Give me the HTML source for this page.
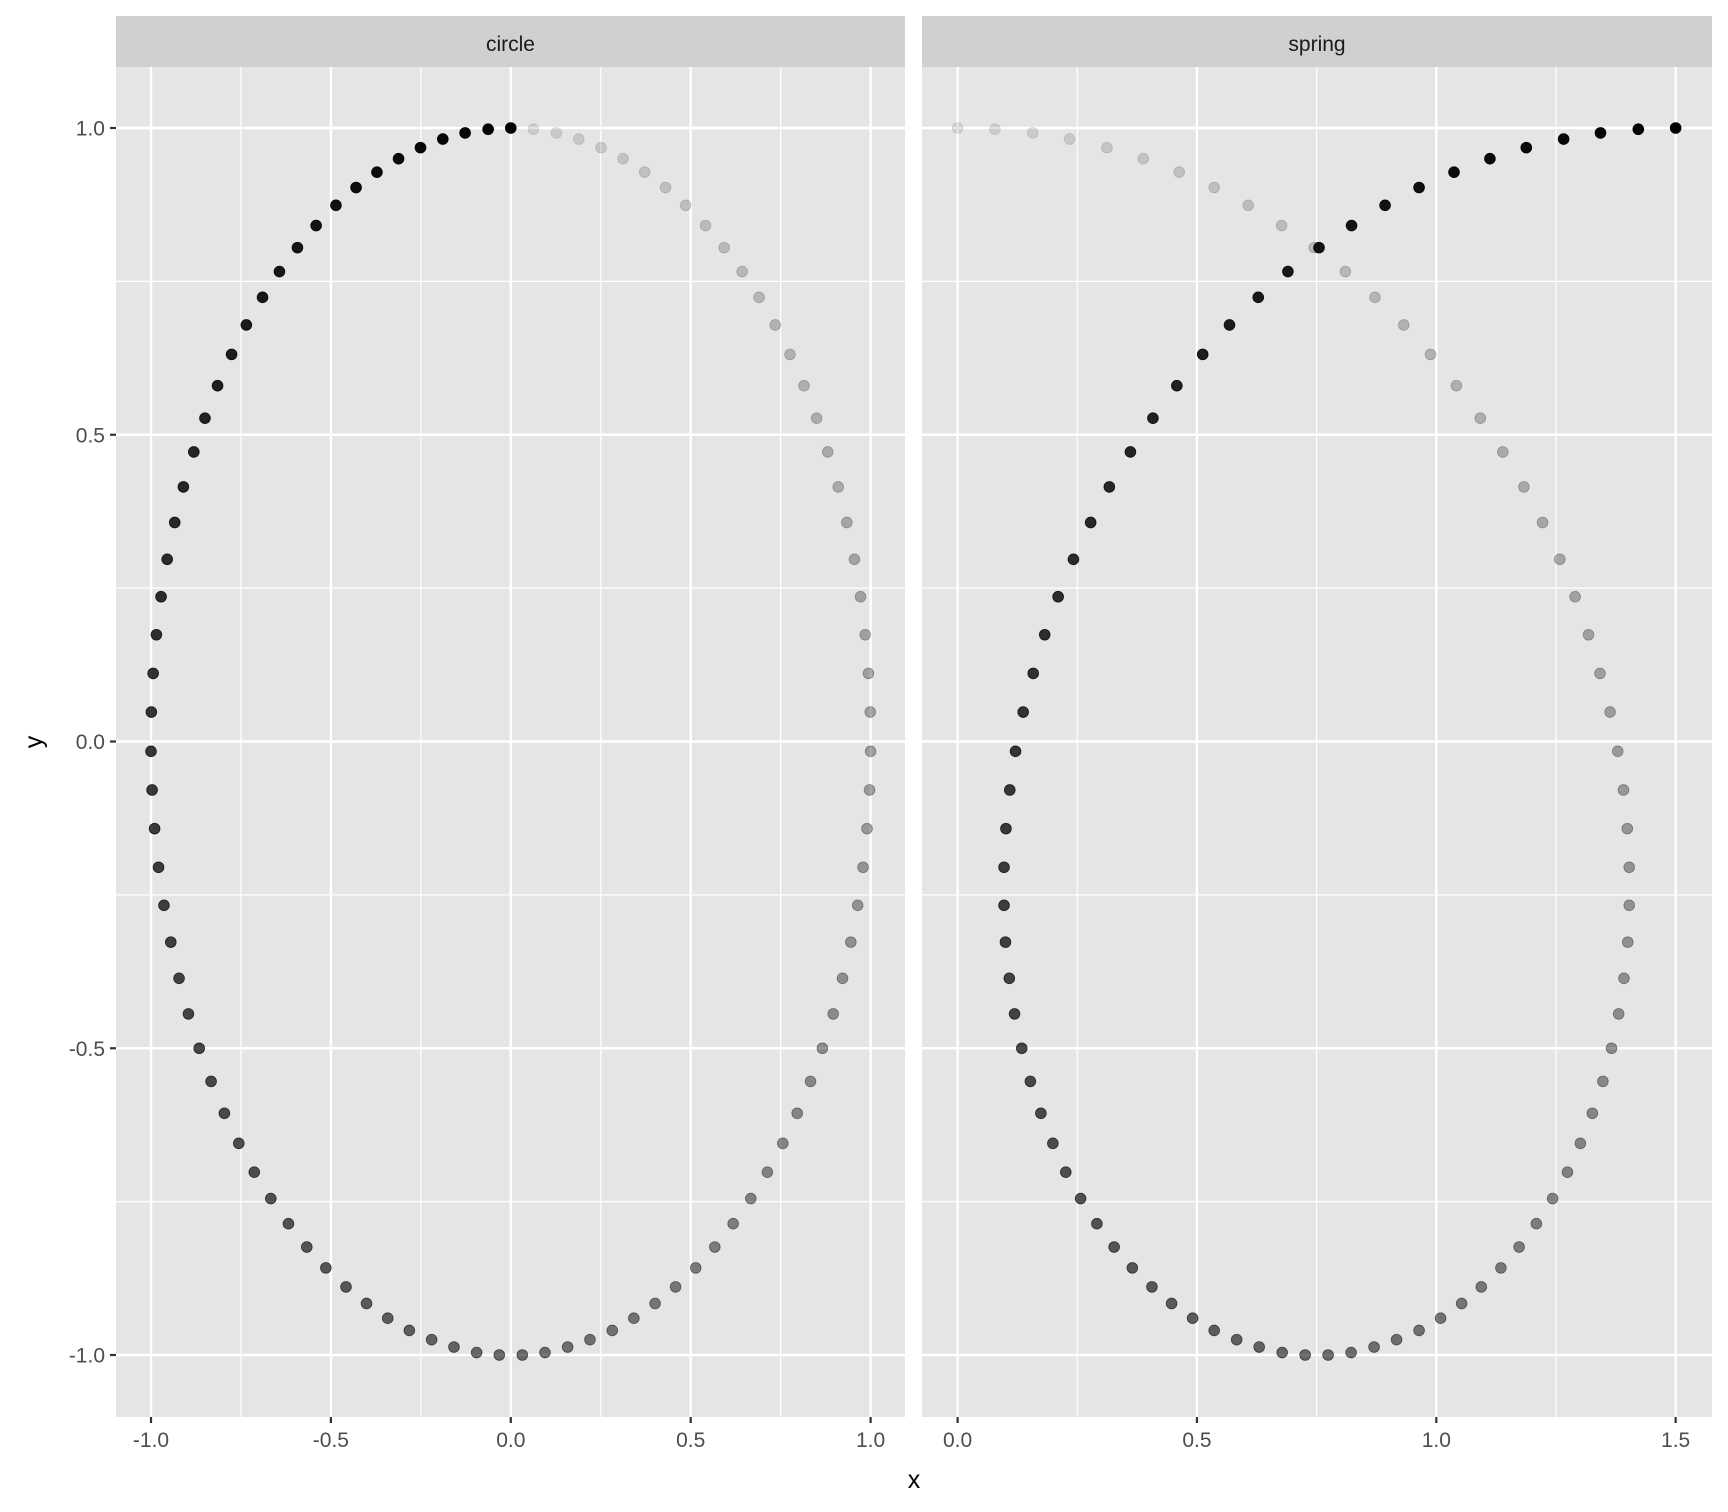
<!DOCTYPE html>
<html><head><meta charset="utf-8"><style>
html,body{margin:0;padding:0;background:#fff;}
svg{display:block;font-family:"Liberation Sans",Arial,sans-serif;}
</style></head><body>
<svg id="chart" width="1728" height="1512" viewBox="0 0 1728 1512" xmlns="http://www.w3.org/2000/svg"></svg>
<script>
const circleX=[0,0.063,0.127,0.189,0.251,0.312,0.372,0.430,0.486,0.541,0.593,0.643,0.690,0.735,0.776,0.815,0.850,0.881,0.910,0.934,0.955,0.972,0.985,0.994,0.999,1.000,0.997,0.990,0.979,0.964,0.945,0.922,0.896,0.866,0.833,0.796,0.756,0.713,0.667,0.618,0.567,0.514,0.458,0.401,0.342,0.282,0.220,0.158,0.095,0.032,-0.032,-0.095,-0.158,-0.220,-0.282,-0.342,-0.401,-0.458,-0.514,-0.567,-0.618,-0.667,-0.713,-0.756,-0.796,-0.833,-0.866,-0.896,-0.922,-0.945,-0.964,-0.979,-0.990,-0.997,-1.000,-0.999,-0.994,-0.985,-0.972,-0.955,-0.934,-0.910,-0.881,-0.850,-0.815,-0.776,-0.735,-0.690,-0.643,-0.593,-0.541,-0.486,-0.430,-0.372,-0.312,-0.251,-0.189,-0.127,-0.063,0];
const circleY=[1.000,0.998,0.992,0.982,0.968,0.950,0.928,0.903,0.874,0.841,0.805,0.766,0.724,0.679,0.631,0.580,0.527,0.472,0.415,0.357,0.297,0.236,0.174,0.111,0.048,-0.016,-0.079,-0.142,-0.205,-0.267,-0.327,-0.386,-0.444,-0.500,-0.554,-0.606,-0.655,-0.702,-0.745,-0.786,-0.824,-0.858,-0.889,-0.916,-0.940,-0.960,-0.975,-0.987,-0.996,-1.000,-1.000,-0.996,-0.987,-0.975,-0.960,-0.940,-0.916,-0.889,-0.858,-0.824,-0.786,-0.745,-0.702,-0.655,-0.606,-0.554,-0.500,-0.444,-0.386,-0.327,-0.267,-0.205,-0.142,-0.079,-0.016,0.048,0.111,0.174,0.236,0.297,0.357,0.415,0.472,0.527,0.580,0.631,0.679,0.724,0.766,0.805,0.841,0.874,0.903,0.928,0.950,0.968,0.982,0.992,0.998,1.000];
const springX=[0,0.078,0.157,0.234,0.312,0.388,0.463,0.536,0.607,0.677,0.745,0.810,0.872,0.932,0.988,1.042,1.092,1.139,1.183,1.222,1.258,1.290,1.318,1.342,1.363,1.379,1.391,1.399,1.403,1.403,1.400,1.392,1.381,1.366,1.348,1.326,1.301,1.274,1.243,1.209,1.173,1.135,1.094,1.053,1.009,0.964,0.917,0.870,0.822,0.774,0.726,0.678,0.630,0.583,0.536,0.491,0.447,0.406,0.365,0.327,0.291,0.257,0.226,0.199,0.174,0.152,0.134,0.119,0.108,0.100,0.097,0.097,0.101,0.109,0.121,0.137,0.158,0.182,0.210,0.242,0.278,0.317,0.361,0.408,0.458,0.512,0.568,0.628,0.690,0.755,0.823,0.893,0.964,1.037,1.112,1.188,1.266,1.343,1.422,1.500];
const springY=[1.000,0.998,0.992,0.982,0.968,0.950,0.928,0.903,0.874,0.841,0.805,0.766,0.724,0.679,0.631,0.580,0.527,0.472,0.415,0.357,0.297,0.236,0.174,0.111,0.048,-0.016,-0.079,-0.142,-0.205,-0.267,-0.327,-0.386,-0.444,-0.500,-0.554,-0.606,-0.655,-0.702,-0.745,-0.786,-0.824,-0.858,-0.889,-0.916,-0.940,-0.960,-0.975,-0.987,-0.996,-1.000,-1.000,-0.996,-0.987,-0.975,-0.960,-0.940,-0.916,-0.889,-0.858,-0.824,-0.786,-0.745,-0.702,-0.655,-0.606,-0.554,-0.500,-0.444,-0.386,-0.327,-0.267,-0.205,-0.142,-0.079,-0.016,0.048,0.111,0.174,0.236,0.297,0.357,0.415,0.472,0.527,0.580,0.631,0.679,0.724,0.766,0.805,0.841,0.874,0.903,0.928,0.950,0.968,0.982,0.992,0.998,1.000];
const yTicks=[-1.0,-0.5,0.0,0.5,1.0];
const yTickLabels=["-1.0","-0.5","0.0","0.5","1.0"];
const yMinor=[-0.75,-0.25,0.25,0.75];
const circleTicks=[-1.0,-0.5,0.0,0.5,1.0];
const circleTickLabels=["-1.0","-0.5","0.0","0.5","1.0"];
const circleMinor=[-0.75,-0.25,0.25,0.75];
const springTicks=[0.0,0.5,1.0,1.5];
const springTickLabels=["0.0","0.5","1.0","1.5"];
const springMinor=[0.25,0.75,1.25];

const NS="http://www.w3.org/2000/svg";
const svg=document.getElementById('chart');
function mk(tag,attrs,parent){const e=document.createElementNS(NS,tag);for(const k in attrs)e.setAttribute(k,attrs[k]);(parent||svg).appendChild(e);return e;}
const pTop=67,pBot=1417;
const yScale=v=>741.5-v*613.5;

const panels=[
 {name:'circle',left:116,right:905,xs:v=>510.8+v*359.8,xv:circleX,yv:circleY,ticks:circleTicks,labels:circleTickLabels,minor:circleMinor},
 {name:'spring',left:922,right:1712,xs:v=>957.6+v*478.7,xv:springX,yv:springY,ticks:springTicks,labels:springTickLabels,minor:springMinor}
];
panels.forEach((p)=>{
 const g=mk('g',{});
 
 
 const bg=mk('rect',{x:p.left,y:pTop,width:p.right-p.left,height:pBot-pTop,fill:'#e5e5e5'},g);
 
 
 const st=mk('rect',{x:p.left,y:16,width:p.right-p.left,height:51,fill:'#d0d0d0'},g);
 
 
 const stt=mk('text',{x:(p.left+p.right)/2,y:51,'text-anchor':'middle','font-size':21,fill:'#1a1a1a'},g);
 stt.textContent=p.name;
 
 
 yMinor.forEach(v=>{const l=mk('line',{x1:p.left,x2:p.right,y1:yScale(v),y2:yScale(v),stroke:'#fff','stroke-width':1.2},g);
  });
 p.minor.forEach(v=>{const l=mk('line',{x1:p.xs(v),x2:p.xs(v),y1:pTop,y2:pBot,stroke:'#fff','stroke-width':1.2},g);
  });
 yTicks.forEach(v=>{const l=mk('line',{x1:p.left,x2:p.right,y1:yScale(v),y2:yScale(v),stroke:'#fff','stroke-width':2.4},g);
  });
 p.ticks.forEach((v,i)=>{const x=p.xs(v);
  const l=mk('line',{x1:x,x2:x,y1:pTop,y2:pBot,stroke:'#fff','stroke-width':2.4},g);
  
  const t=mk('line',{x1:x,x2:x,y1:pBot,y2:pBot+6,stroke:'#333','stroke-width':2.2},g);
  
  const tl=mk('text',{x:x,y:pBot+30,'text-anchor':'middle','font-size':21,fill:'#4d4d4d'},g);
  tl.textContent=p.labels[i];
  });
 p.xv.forEach((xv,k)=>{
  const a=(0.1+0.9*k/(p.xv.length-1)).toFixed(3);
  const c=mk('circle',{cx:p.xs(xv),cy:yScale(p.yv[k]),r:5.4,fill:'#000','fill-opacity':a,stroke:'#000','stroke-opacity':a,'stroke-width':0.8},g);
  
  
 });
});
yTicks.forEach((v,i)=>{const y=yScale(v);
 const t=mk('line',{x1:110,x2:116,y1:y,y2:y,stroke:'#333','stroke-width':2.2});
 
 const tl=mk('text',{x:105,y:y+7.5,'text-anchor':'end','font-size':21,fill:'#4d4d4d'});
 tl.textContent=yTickLabels[i];
 });
const xt=mk('text',{x:914,y:1488,'text-anchor':'middle','font-size':25,fill:'#000'});
xt.textContent='x';

const yt=mk('text',{x:0,y:0,transform:'translate(42,742) rotate(-90)','text-anchor':'middle','font-size':25,fill:'#000'});
yt.textContent='y';

</script>
</body></html>
